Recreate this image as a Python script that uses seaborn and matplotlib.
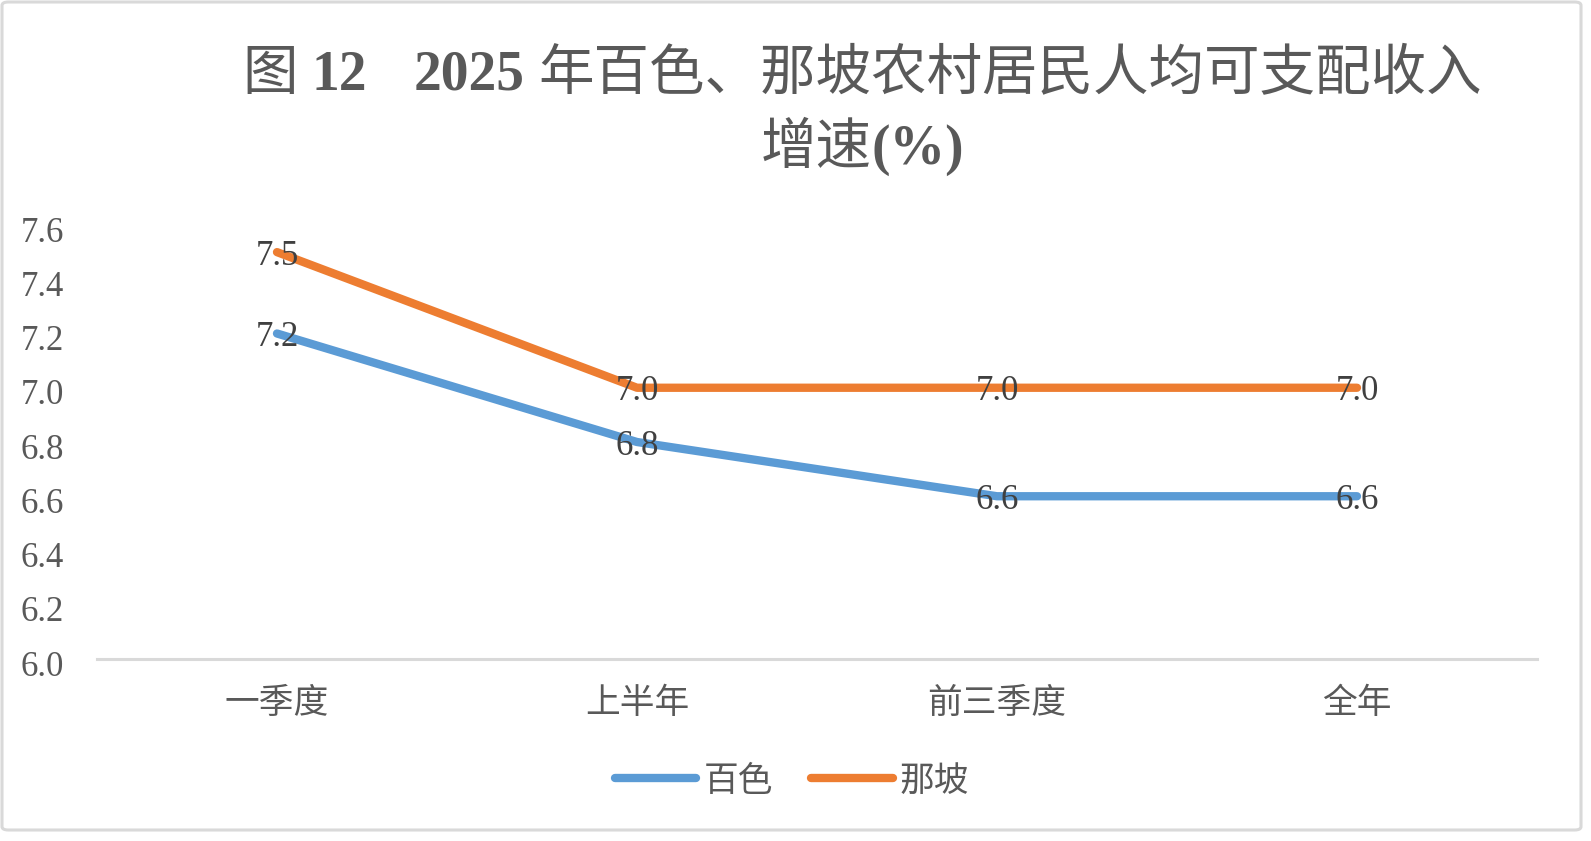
import numpy as np
import pandas as pd
import matplotlib
matplotlib.use("Agg")
import matplotlib.pyplot as plt
import matplotlib.transforms as mtransforms
from matplotlib.lines import Line2D
from matplotlib.patches import FancyBboxPatch
import seaborn as sns

# ── Data ─────────────────────────────────────────────────────────────────────
PERIODS = ["一季度", "上半年", "前三季度", "全年"]
SERIES = ["百色", "那坡"]
BAISE = [7.2, 6.8, 6.6, 6.6]
NAPO = [7.5, 7.0, 7.0, 7.0]
Y_TICKS = [6.0, 6.2, 6.4, 6.6, 6.8, 7.0, 7.2, 7.4, 7.6]

TITLE_1 = [("图", "normal"), ("12", "bold"), ("2025", "bold"),
           ("年百色、那坡农村居民人均可支配收入", "normal")]
TITLE_2 = [("增速", "normal"), ("(%)", "bold")]

COLORS = {"百色": "#5B9BD5", "那坡": "#ED7D31"}
TEXT = "#595959"
LABEL = "#404040"
GRAY = "#D9D9D9"

df = pd.DataFrame({
    "period": PERIODS * 2,
    "series": [SERIES[0]] * len(PERIODS) + [SERIES[1]] * len(PERIODS),
    "value": BAISE + NAPO,
})

sns.set_style("white")
plt.rcParams["font.family"] = ["Liberation Serif", "Noto Sans CJK SC"]

W, H = 1591, 841
fig = plt.figure(figsize=(W / 100, H / 100), dpi=100)
ax = fig.add_axes([97 / W, 182 / H, 1440 / W, 434 / H])

sns.lineplot(data=df, x="period", y="value", hue="series", palette=COLORS,
             hue_order=SERIES, sort=False, linewidth=6, legend=False,
             solid_capstyle="round", ax=ax)

# small downward nudge so digits sit visually centred (like Excel)
nudge = mtransforms.ScaledTranslation(0, -4 / 100, fig.dpi_scale_trans)

# data labels centred on the points
for name, vals in zip(SERIES, [BAISE, NAPO]):
    for i, v in enumerate(vals):
        ax.text(i, v, f"{v:.1f}", ha="center", va="center",
                fontsize=25, color=LABEL, zorder=5,
                transform=ax.transData + nudge)

ax.set_xlim(-0.5, len(PERIODS) - 0.5)
ax.set_ylim(Y_TICKS[0], Y_TICKS[-1])
ax.set_yticks(Y_TICKS)
ax.set_yticklabels([f"{t:.1f}" for t in Y_TICKS])
ax.set_xlabel("")
ax.set_ylabel("")
ax.tick_params(axis="y", length=0, pad=24, labelsize=25, labelcolor=TEXT)
ax.tick_params(axis="x", length=0, pad=21, labelsize=25, labelcolor=TEXT)
for lab in ax.get_yticklabels():
    lab.set_transform(lab.get_transform() + nudge)
for side in ["top", "right", "left"]:
    ax.spines[side].set_visible(False)
ax.spines["bottom"].set_color(GRAY)
ax.spines["bottom"].set_linewidth(2.2)
ax.grid(False)

# legend
handles = [Line2D([], [], color=COLORS[s], linewidth=6, solid_capstyle="round")
           for s in SERIES]
fig.legend(handles, SERIES, loc="center", bbox_to_anchor=(792 / W, 1 - 782 / H),
           ncol=2, frameon=False, fontsize=25, labelcolor=TEXT,
           handlelength=2.35, handletextpad=0.2, columnspacing=1.1,
           borderpad=0)

# outer chart border
fig.patches.append(FancyBboxPatch((2 / W, 11 / H), 1579 / W, 828 / H,
                                  boxstyle="round,pad=0,rounding_size=0.004",
                                  transform=fig.transFigure, fill=False,
                                  edgecolor=GRAY, linewidth=2.2))


# ── Title: mixed weight pieces, laid out side by side ────────────────────────
def draw_title_line(pieces, gaps, cx, y, size):
    texts = [fig.text(0, y, s, fontsize=size, fontweight=w, color=TEXT,
                      ha="left", va="baseline") for s, w in pieces]
    fig.canvas.draw()
    r = fig.canvas.get_renderer()
    widths = [t.get_window_extent(r).width for t in texts]
    total = sum(widths) + sum(gaps)
    x = cx * W - total / 2
    for t, wd, g in zip(texts, widths, gaps + [0]):
        t.set_x(x / W)
        x += wd + g


draw_title_line(TITLE_1, [14, 46, 14], 862 / W, 1 - 90 / H, 40)
draw_title_line(TITLE_2, [0], 862 / W, 1 - 164 / H, 40)

fig.savefig("out.png", dpi=100)
